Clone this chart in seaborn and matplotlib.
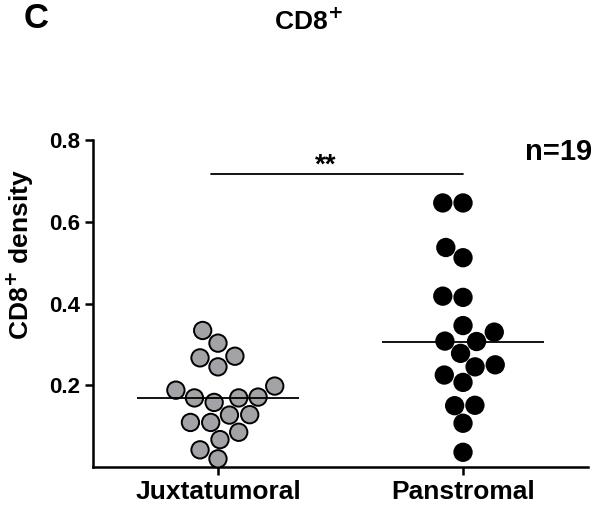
import numpy as np
import pandas as pd
import seaborn as sns
import matplotlib.pyplot as plt

# Values (CD8+ density per patient)
juxtatumoral = [0.334, 0.303, 0.267, 0.271, 0.245, 0.188, 0.198, 0.169, 0.158, 0.169,
                0.171, 0.127, 0.109, 0.128, 0.109, 0.085, 0.067, 0.042, 0.020]
panstromal = [0.646, 0.646, 0.537, 0.512, 0.418, 0.415, 0.346, 0.330, 0.307, 0.308,
              0.278, 0.250, 0.245, 0.225, 0.207, 0.150, 0.151, 0.107, 0.036]
groups = ['Juxtatumoral', 'Panstromal']
group_colors = ['#a3a3a7', '#000000']
y_ticks = [0.2, 0.4, 0.6, 0.8]

df = pd.DataFrame({
    'group': [groups[0]] * len(juxtatumoral) + [groups[1]] * len(panstromal),
    'density': juxtatumoral + panstromal,
})

sns.set_style('ticks')
plt.rcParams['font.family'] = ['Liberation Sans', 'DejaVu Sans']
plt.rcParams['font.weight'] = 'bold'
plt.rcParams.update({'text.color': 'black', 'axes.labelcolor': 'black',
                     'xtick.color': 'black', 'ytick.color': 'black',
                     'axes.edgecolor': 'black'})

fig = plt.figure(figsize=(5.99, 5.2), dpi=100)
ax = fig.add_axes([93 / 599, 53 / 520, 495 / 599, 327 / 520])

sns.swarmplot(data=df, x='group', y='density', hue='group', order=groups,
              palette=group_colors, size=12.5, linewidth=1.4, edgecolor='black',
              legend=False, ax=ax)

# median lines
for i, vals in enumerate([juxtatumoral, panstromal]):
    ax.hlines(np.median(vals), i - 0.33, i + 0.33, color='black', lw=1.3, zorder=5)

ax.set_xlim(-0.51, 1.51)
ax.set_ylim(0, 0.8)
ax.set_yticks(y_ticks)
ax.set_yticklabels([f'{t:.1f}' for t in y_ticks])
ax.set_xlabel('')
ax.set_ylabel('CD8$^{\\mathbf{+}}$ density', fontsize=19, fontweight='bold')
ax.yaxis.set_label_coords(-0.115, 0.65)
ax.tick_params(axis='y', labelsize=16, width=1.8, length=6, colors='black')
ax.tick_params(axis='x', labelsize=19, width=1.8, length=6, colors='black')
for lab in ax.get_xticklabels() + ax.get_yticklabels():
    lab.set_fontweight('bold')
sns.despine(ax=ax)
for s in ['left', 'bottom']:
    ax.spines[s].set_linewidth(1.8)
    ax.spines[s].set_color('black')

# significance bar
ax.plot([-0.03, 1.0], [0.717, 0.717], color='black', lw=1.3, clip_on=False)
ax.text(0.44, 0.705, '**', ha='center', va='bottom', fontsize=20, fontweight='bold')
ax.text(1.39, 0.77, 'n=19', ha='center', va='center', fontsize=21, fontweight='bold')

fig.text(24 / 599, 1 - 19 / 520, 'C', fontsize=25, fontweight='bold', va='center', ha='left')
fig.text(308 / 599, 1 - 22 / 520, 'CD8$^{\\mathbf{+}}$', fontsize=19, fontweight='bold',
         va='center', ha='center')

fig.savefig('out.png', dpi=100)
